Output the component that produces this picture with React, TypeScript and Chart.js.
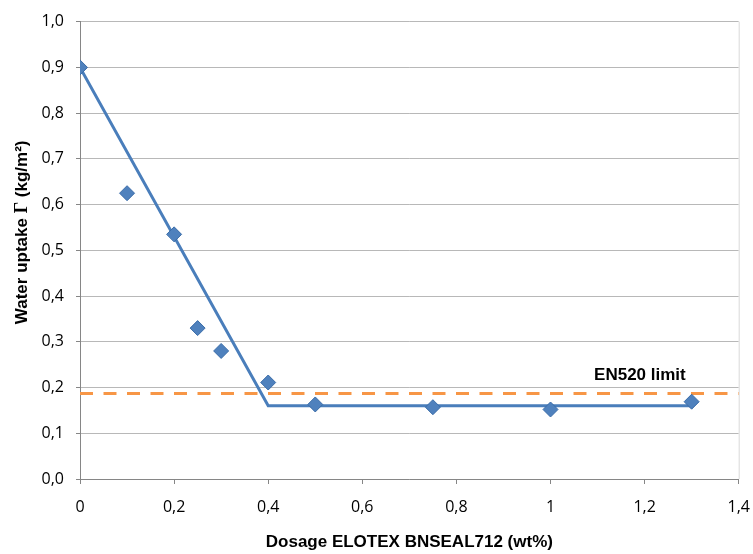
import React, { useEffect, useRef } from "react";
import { Chart, registerables } from "chart.js";

Chart.register(...registerables);

const dosage = [0, 0.1, 0.2, 0.25, 0.3, 0.4, 0.5, 0.75, 1.0, 1.3];
const uptake = [0.9, 0.625, 0.535, 0.33, 0.28, 0.211, 0.163, 0.157, 0.152, 0.169];
const fitX = [0, 0.4, 1.3];
const fitY = [0.9, 0.16, 0.16];
const limitX = [0, 1.4];
const limitY = [0.187, 0.187];
const limitLabel = "EN520 limit";
const limitLabelPos = { x: 1.19, y: 0.227 };
const xTitle = "Dosage ELOTEX BNSEAL712 (wt%)";
const yTitleParts = ["Water uptake ", "\u0393", " (kg/m\u00B2)"];

const toComma = (v: number) => String(Math.round(v * 10) / 10).replace(".", ",");

export default function App() {
  const ref = useRef<HTMLCanvasElement | null>(null);

  useEffect(() => {
    if (!ref.current) return;
    const sansBold = "bold 17px 'Liberation Sans', Arial, sans-serif";
    const serifBold = "bold 18px 'Liberation Serif', 'Times New Roman', serif";
    const extras = {
      id: "extras",
      beforeDatasetsDraw(chart: any) {
        const { ctx, chartArea } = chart;
        ctx.save();
        ctx.strokeStyle = "#d9d9d9";
        ctx.lineWidth = 1;
        ctx.beginPath();
        ctx.moveTo(chartArea.right + 0.5, chartArea.top);
        ctx.lineTo(chartArea.right + 0.5, chartArea.bottom);
        ctx.stroke();
        ctx.restore();
      },
      afterDatasetsDraw(chart: any) {
        const { ctx, scales, chartArea } = chart;
        ctx.save();
        ctx.fillStyle = "#000";
        ctx.font = sansBold;
        ctx.textAlign = "center";
        ctx.textBaseline = "middle";
        ctx.fillText(
          limitLabel,
          scales.x.getPixelForValue(limitLabelPos.x),
          scales.y.getPixelForValue(limitLabelPos.y)
        );
        ctx.restore();

        // y axis title with a serif Gamma
        ctx.save();
        const fonts = [sansBold, serifBold, sansBold];
        const widths = yTitleParts.map((t, i) => {
          ctx.font = fonts[i];
          return ctx.measureText(t).width;
        });
        const total = widths.reduce((a, b) => a + b, 0);
        const centerY = (chartArea.top + chartArea.bottom) / 2 - 18;
        ctx.translate(27, centerY);
        ctx.rotate(-Math.PI / 2);
        ctx.fillStyle = "#000";
        ctx.textAlign = "left";
        ctx.textBaseline = "alphabetic";
        let x = -total / 2;
        yTitleParts.forEach((t, i) => {
          ctx.font = fonts[i];
          ctx.fillText(t, x, 0);
          x += widths[i];
        });
        ctx.restore();
      },
    };

    const chart = new Chart(ref.current, {
      type: "scatter",
      data: {
        datasets: [
          {
            label: "Measured",
            data: dosage.map((x, i) => ({ x, y: uptake[i] })),
            pointStyle: "rectRot",
            pointRadius: 7.5,
            backgroundColor: "#4F81BD",
            borderColor: "#3A6CA8",
            borderWidth: 1,
            showLine: false,
            order: 0,
          },
          {
            label: "Fit",
            data: fitX.map((x, i) => ({ x, y: fitY[i] })),
            showLine: true,
            borderColor: "#4A7EBB",
            borderWidth: 3,
            pointRadius: 0,
            fill: false,
            order: 1,
          },
          {
            label: "EN520 limit",
            data: limitX.map((x, i) => ({ x, y: limitY[i] })),
            showLine: true,
            borderColor: "#F79646",
            borderWidth: 3.2,
            borderDash: [13, 10.5],
            pointRadius: 0,
            fill: false,
            order: 2,
          },
        ],
      },
      options: {
        responsive: false,
        animation: false,
        layout: { padding: { left: 0, top: 21.7, right: 14.3, bottom: 0 } },
        plugins: { legend: { display: false }, tooltip: { enabled: false } },
        scales: {
          x: {
            type: "linear",
            min: 0,
            max: 1.4,
            ticks: {
              stepSize: 0.2,
              padding: 14,
              color: "#000",
              font: { family: "'Open Sans', sans-serif", size: 16 },
              callback: (v: any) => toComma(Number(v)),
            },
            grid: {
              drawOnChartArea: false,
              drawTicks: true,
              tickLength: 5,
              color: "#868686",
            },
            border: { color: "#868686", width: 1 },
            title: {
              display: true,
              text: xTitle,
              color: "#000",
              font: { family: "'Liberation Sans', Arial, sans-serif", size: 17, weight: "bold" },
              padding: { top: 0, bottom: 1 },
            },
            afterFit: (s: any) => {
              s.height = 75;
              s.paddingLeft = 0;
              s.paddingRight = 0;
            },
          },
          y: {
            type: "linear",
            min: 0,
            max: 1.0,
            ticks: {
              stepSize: 0.1,
              padding: 12,
              color: "#000",
              font: { family: "'Open Sans', sans-serif", size: 16 },
              callback: (v: any) => Number(v).toFixed(1).replace(".", ","),
            },
            grid: {
              color: "#b8b8b8",
              tickColor: "#868686",
              drawTicks: true,
              tickLength: 4,
            },
            border: { color: "#868686", width: 1 },
            title: { display: false },
            afterFit: (s: any) => {
              s.width = 80;
              s.paddingTop = 0;
              s.paddingBottom = 0;
            },
          },
        },
      },
      plugins: [extras],
    } as any);
    return () => chart.destroy();
  }, []);

  return (
    <div style={{ position: "absolute", left: 0, top: 0, width: 753, height: 554, background: "#fff" }}>
      <canvas ref={ref} width={753} height={554} style={{ display: "block" }} />
    </div>
  );
}
